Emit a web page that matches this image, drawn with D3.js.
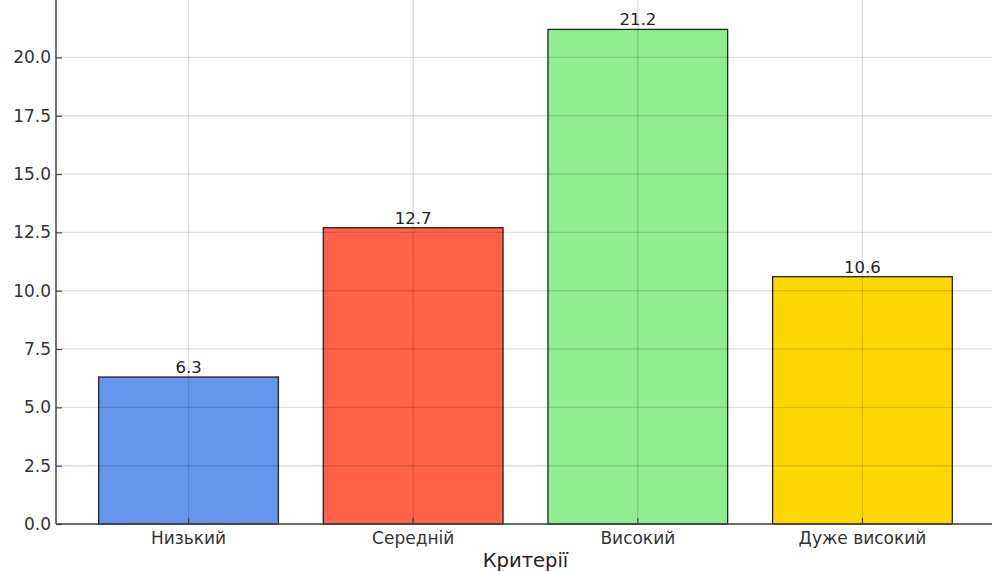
<!DOCTYPE html>
<html>
<head>
<meta charset="utf-8">
<script src="https://cdn.jsdelivr.net/npm/d3@7"></script>
<style>
  body { margin: 0; background: #fff; }
  svg { display: block; font-family: 'DejaVu Sans', sans-serif; }
</style>
</head>
<body>
<svg width="992" height="572"></svg>
<script>
// chart data
var categories = ['Низький', 'Середній', 'Високий', 'Дуже високий']
var values = [6.3, 12.7, 21.2, 10.6]
var colors = ['#6495ED', '#FF6347', '#90EE90', '#FFD700']
var yTicks = [0, 2.5, 5, 7.5, 10, 12.5, 15, 17.5, 20]
var xTitle = 'Критерії'

var svg = d3.select('svg'),
  left = 56, right = 995, top = 13, bottom = 524

var x = d3.scaleBand()
    .domain(categories)
    .range([left, right])
    .paddingInner(0.2)
    .paddingOuter(0.19)

var y = d3.scaleLinear()
    .domain([0, 22.26])
    .range([bottom, bottom - 22.26 * 23.33])

// bars
svg.append('g').selectAll('rect')
    .data(values)
  .enter().append('rect')
    .attr('x', function (d, i) { return x(categories[i]) })
    .attr('y', function (d) { return y(d) })
    .attr('width', x.bandwidth())
    .attr('height', function (d) { return y(0) - y(d) })
    .attr('fill', function (d, i) { return colors[i] })
    .attr('stroke', '#222')
    .attr('stroke-width', 1.3)

// grid on top of bars
var grid = svg.append('g')
    .attr('stroke', '#000')
    .attr('stroke-opacity', 0.13)
    .attr('stroke-width', 1.4)

grid.selectAll('.hgrid')
    .data(yTicks)
  .enter().append('line')
    .attr('x1', left).attr('x2', 992)
    .attr('y1', function (d) { return y(d) })
    .attr('y2', function (d) { return y(d) })

grid.selectAll('.vgrid')
    .data(categories)
  .enter().append('line')
    .attr('x1', function (d) { return x(d) + x.bandwidth() / 2 })
    .attr('x2', function (d) { return x(d) + x.bandwidth() / 2 })
    .attr('y1', top).attr('y2', bottom)

// axes
var yAxis = d3.axisLeft(y)
    .tickValues(yTicks)
    .tickFormat(d3.format('.1f'))
    .tickSizeInner(-6)
    .tickSizeOuter(0)
    .tickPadding(5)

var xAxis = d3.axisBottom(x)
    .tickSizeInner(-6)
    .tickSizeOuter(0)
    .tickPadding(14)

var gy = svg.append('g')
    .attr('transform', 'translate(' + left + ',0)')
    .call(yAxis)
gy.select('.domain').remove()
gy.selectAll('.tick line').attr('stroke', '#444').attr('stroke-width', 1.2)
gy.selectAll('.tick text').attr('fill', '#333').attr('font-size', 17)
    .attr('font-family', 'DejaVu Sans')

var gx = svg.append('g')
    .attr('transform', 'translate(0,' + bottom + ')')
    .call(xAxis)
gx.select('.domain').remove()
gx.selectAll('.tick line').attr('stroke', '#444').attr('stroke-width', 1.2)
gx.selectAll('.tick text').attr('fill', '#333').attr('font-size', 17)
    .attr('font-family', 'DejaVu Sans').attr('dy', '5.5px')

// spines
svg.append('line')
    .attr('x1', left).attr('x2', left)
    .attr('y1', top).attr('y2', bottom)
    .attr('stroke', '#444').attr('stroke-width', 1.5)
svg.append('line')
    .attr('x1', left).attr('x2', 992)
    .attr('y1', bottom).attr('y2', bottom)
    .attr('stroke', '#444').attr('stroke-width', 1.5)

// value labels
svg.append('g').selectAll('text')
    .data(values)
  .enter().append('text')
    .attr('x', function (d, i) { return x(categories[i]) + x.bandwidth() / 2 })
    .attr('y', function (d) { return y(d) - 4 })
    .attr('text-anchor', 'middle')
    .attr('font-size', 16.5)
    .attr('fill', '#222')
    .text(function (d) { return d.toFixed(1) })

// x title
svg.append('text')
    .attr('x', (left + right) / 2)
    .attr('y', 567)
    .attr('text-anchor', 'middle')
    .attr('font-size', 19.5)
    .attr('fill', '#222')
    .text(xTitle)
</script>
</body>
</html>
